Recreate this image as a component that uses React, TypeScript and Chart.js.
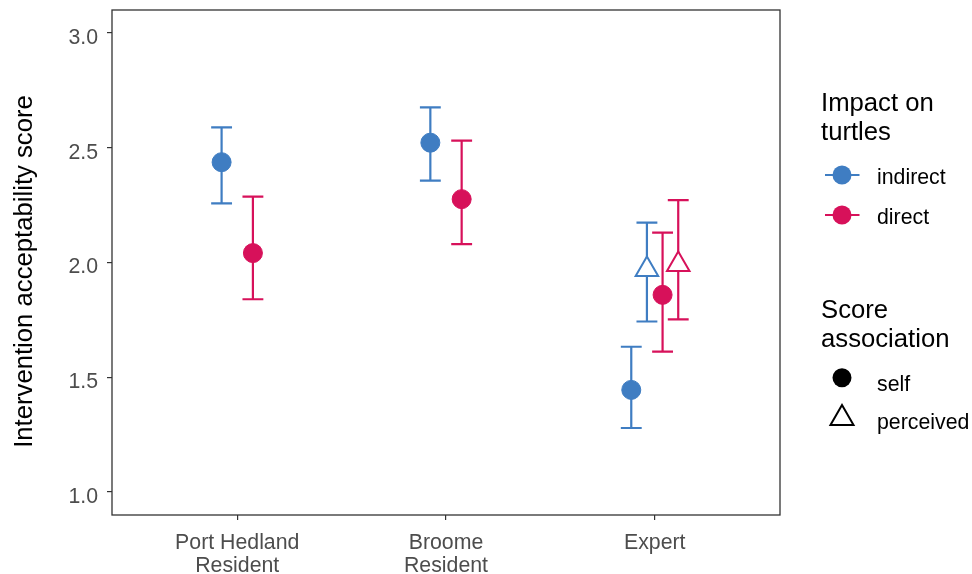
import React, { useEffect, useRef } from "react";
import { Chart, registerables } from "chart.js";

Chart.register(...registerables);

// ---------- data ----------
const categories: string[][] = [["Port Hedland", "Resident"], ["Broome", "Resident"], ["Expert"]];
const yTicks = [1.0, 1.5, 2.0, 2.5, 3.0];
const impactLabels = ["indirect", "direct"];
const associationLabels = ["self", "perceived"];
const yTitle = "Intervention acceptability score";

// indirect impact, self score
const indirectSelfMean = [2.437, 2.522, 1.445];
const indirectSelfLow = [2.258, 2.357, 1.279];
const indirectSelfHigh = [2.589, 2.676, 1.633];
// indirect impact, perceived score
const indirectPerceivedMean = [null, null, 1.97];
const indirectPerceivedLow = [null, null, 1.743];
const indirectPerceivedHigh = [null, null, 2.174];
// direct impact, self score
const directSelfMean = [2.041, 2.276, 1.859];
const directSelfLow = [1.84, 2.08, 1.612];
const directSelfHigh = [2.287, 2.531, 2.13];
// direct impact, perceived score
const directPerceivedMean = [null, null, 1.991];
const directPerceivedLow = [null, null, 1.752];
const directPerceivedHigh = [null, null, 2.272];

// ---------- styling ----------
const BLUE = "#3F7DC2";
const RED = "#D7115A";
const FONT = "'Liberation Sans', Arial, Helvetica, sans-serif";
const DODGE = 0.3;
const CAP_HALF = 0.05;
const TICK_SIZE = 21.3;
const TITLE_SIZE = 25.7;

type Series = {
  impact: number;
  assoc: number;
  mean: (number | null)[];
  low: (number | null)[];
  high: (number | null)[];
};

// dodge order: indirect-self, indirect-perceived, direct-self, direct-perceived
const series: Series[] = [
  { impact: 0, assoc: 0, mean: indirectSelfMean, low: indirectSelfLow, high: indirectSelfHigh },
  { impact: 0, assoc: 1, mean: indirectPerceivedMean, low: indirectPerceivedLow, high: indirectPerceivedHigh },
  { impact: 1, assoc: 0, mean: directSelfMean, low: directSelfLow, high: directSelfHigh },
  { impact: 1, assoc: 1, mean: directPerceivedMean, low: directPerceivedLow, high: directPerceivedHigh },
];

const colorOf = (impact: number) => (impact === 0 ? BLUE : RED);

function buildDatasets() {
  const pts: any[][] = series.map(() => []);
  categories.forEach((_, c) => {
    const present = series.map((s, i) => (s.mean[c] != null ? i : -1)).filter((i) => i >= 0);
    const n = present.length;
    present.forEach((si, k) => {
      const s = series[si];
      const off = (k - (n - 1) / 2) * (DODGE / n);
      pts[si].push({ x: c + 1 + off, y: s.mean[c], lo: s.low[c], hi: s.high[c] });
    });
  });
  return series.map((s, i) => {
    const col = colorOf(s.impact);
    const tri = s.assoc === 1;
    return {
      label: impactLabels[s.impact] + " " + associationLabels[s.assoc],
      data: pts[i],
      pointStyle: tri ? "triangle" : "circle",
      pointRadius: tri ? 13 : 9.5,
      pointHoverRadius: tri ? 13 : 9.5,
      backgroundColor: tri ? "#ffffff" : col,
      borderColor: col,
      borderWidth: tri ? 2 : 1,
      showLine: false,
    };
  });
}

const errorBarPlugin = {
  id: "errorBars",
  beforeDatasetsDraw(chart: any) {
    const { ctx, scales } = chart;
    const xs = scales.x;
    const ys = scales.y;
    const capPx = xs.getPixelForValue(1 + CAP_HALF) - xs.getPixelForValue(1);
    chart.data.datasets.forEach((ds: any) => {
      ctx.save();
      ctx.strokeStyle = ds.borderColor;
      ctx.lineWidth = 2.2;
      ds.data.forEach((p: any) => {
        const x = xs.getPixelForValue(p.x);
        const y1 = ys.getPixelForValue(p.lo);
        const y2 = ys.getPixelForValue(p.hi);
        ctx.beginPath();
        ctx.moveTo(x, y1);
        ctx.lineTo(x, y2);
        ctx.moveTo(x - capPx, y1);
        ctx.lineTo(x + capPx, y1);
        ctx.moveTo(x - capPx, y2);
        ctx.lineTo(x + capPx, y2);
        ctx.stroke();
      });
      ctx.restore();
    });
  },
};

const framePlugin = {
  id: "frame",
  beforeDatasetsDraw(chart: any) {
    const { ctx, chartArea } = chart;
    ctx.save();
    ctx.strokeStyle = "#333333";
    ctx.lineWidth = 1.3;
    ctx.strokeRect(chartArea.left, chartArea.top, chartArea.right - chartArea.left, chartArea.bottom - chartArea.top);
    ctx.restore();
  },
};

const yTitlePlugin = {
  id: "yTitle",
  afterDraw(chart: any) {
    const { ctx, chartArea } = chart;
    ctx.save();
    ctx.translate(31.7, (chartArea.top + chartArea.bottom) / 2 + 9);
    ctx.rotate(-Math.PI / 2);
    ctx.textAlign = "center";
    ctx.textBaseline = "alphabetic";
    ctx.fillStyle = "#000000";
    ctx.font = `${TITLE_SIZE}px ${FONT}`;
    ctx.fillText(yTitle, 0, 0);
    ctx.restore();
  },
};

function drawTriangle(ctx: CanvasRenderingContext2D, x: number, y: number, r: number) {
  ctx.beginPath();
  ctx.moveTo(x, y - r);
  ctx.lineTo(x + r * Math.sin((2 * Math.PI) / 3), y - r * Math.cos((2 * Math.PI) / 3));
  ctx.lineTo(x + r * Math.sin((4 * Math.PI) / 3), y - r * Math.cos((4 * Math.PI) / 3));
  ctx.closePath();
}

const legendPlugin = {
  id: "ggLegend",
  afterDraw(chart: any) {
    const { ctx } = chart;
    ctx.save();
    ctx.textAlign = "left";
    ctx.textBaseline = "alphabetic";
    ctx.fillStyle = "#000000";
    const titleFont = `${TITLE_SIZE}px ${FONT}`;
    const labelFont = `${TICK_SIZE}px ${FONT}`;
    const tx = 821;
    const kx = 842;
    const lx = 877;

    // Impact legend
    ctx.font = titleFont;
    ctx.fillText("Impact on", tx, 111);
    ctx.fillText("turtles", tx, 139.5);
    const impactY = [175, 215];
    impactLabels.forEach((lab, i) => {
      const y = impactY[i];
      const col = colorOf(i);
      ctx.strokeStyle = col;
      ctx.lineWidth = 2.2;
      ctx.beginPath();
      ctx.moveTo(825, y);
      ctx.lineTo(859.5, y);
      ctx.stroke();
      ctx.fillStyle = col;
      ctx.beginPath();
      ctx.arc(kx, y, 9.5, 0, Math.PI * 2);
      ctx.fill();
      ctx.fillStyle = "#000000";
      ctx.font = labelFont;
      ctx.fillText(lab, lx, y + 8.5);
    });

    // Association legend
    ctx.font = titleFont;
    ctx.fillText("Score", tx, 318);
    ctx.fillText("association", tx, 346.5);
    ctx.font = labelFont;
    ctx.fillStyle = "#000000";
    ctx.beginPath();
    ctx.arc(kx, 377.7, 9.5, 0, Math.PI * 2);
    ctx.fill();
    ctx.fillText(associationLabels[0], lx, 390.5);
    ctx.strokeStyle = "#000000";
    ctx.lineWidth = 2;
    drawTriangle(ctx, kx, 418.3, 13.3);
    ctx.stroke();
    ctx.fillText(associationLabels[1], lx, 429);
    ctx.restore();
  },
};

export default function App() {
  const ref = useRef<HTMLCanvasElement>(null);
  useEffect(() => {
    document.body.style.margin = "0";
    Chart.defaults.font.family = FONT;
    const chart = new Chart(ref.current as HTMLCanvasElement, {
      type: "scatter",
      data: { datasets: buildDatasets() as any },
      options: {
        animation: false,
        responsive: false,
        maintainAspectRatio: false,
        layout: { autoPadding: false, padding: { left: 0, right: 192, top: 10, bottom: 0 } },
        plugins: { legend: { display: false }, tooltip: { enabled: false } },
        scales: {
          x: {
            type: "linear",
            min: 0.4,
            max: 3.6,
            afterBuildTicks: (s: any) => {
              s.ticks = categories.map((_, i) => ({ value: i + 1 }));
            },
            afterFit: (s: any) => {
              s.height = 59;
              s.paddingLeft = 0;
              s.paddingRight = 0;
            },
            ticks: {
              autoSkip: false,
              maxRotation: 0,
              minRotation: 0,
              padding: 11,
              color: "#4D4D4D",
              font: { size: TICK_SIZE, lineHeight: 1.1 },
              callback: (v: any) => categories[Math.round(Number(v)) - 1] ?? "",
            },
            grid: { display: true, drawOnChartArea: false, drawTicks: true, tickLength: 5, color: "#333333", lineWidth: 1.2 },
            border: { display: false },
          },
          y: {
            type: "linear",
            min: 0.9,
            max: 3.1,
            afterBuildTicks: (s: any) => {
              s.ticks = yTicks.map((v) => ({ value: v }));
            },
            afterFit: (s: any) => {
              s.width = 112;
              s.paddingTop = 0;
              s.paddingBottom = 0;
            },
            ticks: {
              padding: 9,
              labelOffset: 5,
              color: "#4D4D4D",
              font: { size: TICK_SIZE },
              callback: (v: any) => Number(v).toFixed(1),
            },
            grid: { display: true, drawOnChartArea: false, drawTicks: true, tickLength: 5, color: "#333333", lineWidth: 1.2 },
            border: { display: false },
            title: { display: false },
          },
        },
      },
      plugins: [framePlugin, errorBarPlugin, legendPlugin, yTitlePlugin],
    });
    return () => chart.destroy();
  }, []);
  return (
    <div style={{ width: 972, height: 574 }}>
      <canvas ref={ref} width={972} height={574} style={{ display: "block" }} />
    </div>
  );
}
